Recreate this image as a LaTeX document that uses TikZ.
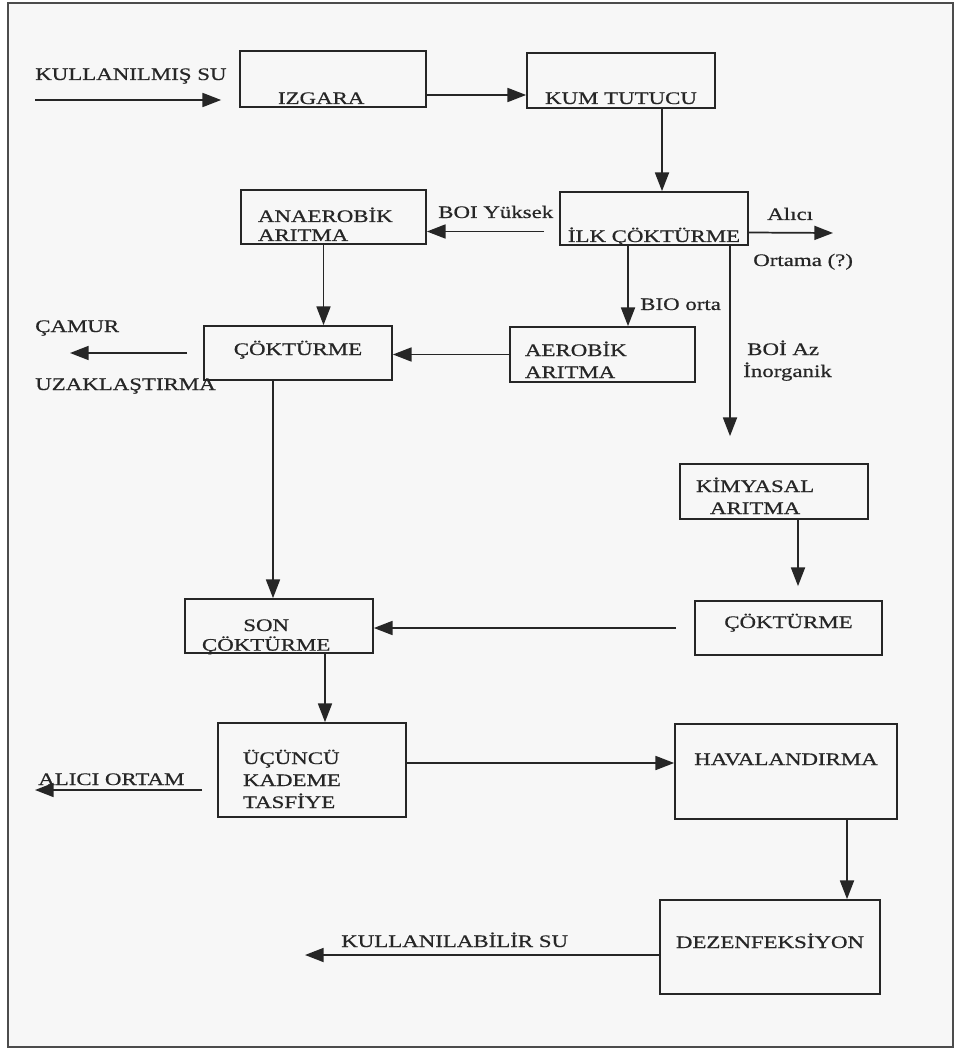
\documentclass[tikz,border=0pt]{standalone}
\usepackage{fontspec}
\setmainfont{Liberation Serif}[FakeStretch=1.3, FakeBold=0.6]
\usetikzlibrary{arrows.meta}
\newlength{\pix}
\setlength{\pix}{0.75pt}

\begin{document}
\begin{tikzpicture}[
    x=0.75pt,
    y=-0.75pt,
    font=\fontsize{13.2}{15.75}\selectfont,
    color=black!85,
    box/.style = {
      shape=rectangle,
      draw,
      line width=1.3pt,
      inner xsep=3pt,
      inner ysep=2pt,
      align=center
    },
    boxsize/.style 2 args = {minimum width=#1\pix, minimum height=#2\pix},
    textdown/.style = {text height=#1\pix, text depth=0pt, inner ysep=0pt},
    textup/.style = {text height=0pt, text depth=#1\pix, inner ysep=0pt},
    rows/.style = {font=\fontsize{13.2}{#1}\selectfont},
    leftcol/.style = {text width=#1\pix, align=left},
    tag/.style = {inner sep=0pt, anchor=base west},
    arr/.style = {draw, line width=1.3pt, -{Triangle[length=14pt,width=10.5pt]}}
    ]

  \useasboundingbox (0,0) rectangle (957,1048);
  \fill[white] (0,0) rectangle (957,1048);
  \draw[black!70, line width=1pt, fill=black!3] (8,3) rectangle (953,1047);

  \node[box, boxsize={186}{56}, textdown=50, leftcol=110] (izgara) at (333,79) {IZGARA};
  \node[box, boxsize={188}{55}, textdown=47] (kum) at (621,80.5) {KUM TUTUCU};
  \node[box, boxsize={185}{54}, textdown=10, rows=14.25, leftcol=151] (anaerob) at (333.5,217)
    {\begin{tabular}[t]{@{}l@{}}ANAEROBİK\\ARITMA\end{tabular}};
  \node[box, boxsize={188}{53}, textdown=47] (ilk) at (654,218.5) {İLK ÇÖKTÜRME};
  \node[box, boxsize={185}{55}, textdown=3, rows=16.5, leftcol=155] (aerob) at (602.5,354.5)
    {\begin{tabular}[t]{@{}l@{}}AEROBİK\\ARITMA\end{tabular}};
  \node[box, boxsize={188}{54}, textdown=4] (cokl) at (298,353) {ÇÖKTÜRME};
  \node[box, boxsize={188}{55}, textdown=1, rows=16.5, leftcol=156] (kimya) at (774,491.5)
    {\begin{tabular}[t]{@{}c@{}}KİMYASAL\\ARITMA\end{tabular}};
  \node[box, boxsize={187}{54}, textdown=0] (cokr) at (788.5,628) {ÇÖKTÜRME};
  \node[box, boxsize={188}{54}, textdown=10, rows=13.5, leftcol=154] (son) at (279,626)
    {\begin{tabular}[t]{@{}c@{}}SON\\ÇÖKTÜRME\end{tabular}};
  \node[box, boxsize={188}{94}, textup=12, rows=16.5, leftcol=138] (ucuncu) at (312,770)
    {\begin{tabular}[t]{@{}l@{}}ÜÇÜNCÜ\\KADEME\\TASFİYE\end{tabular}};
  \node[box, boxsize={222}{95}, textup=13] (hava) at (786,771.5) {HAVALANDIRMA};
  \node[box, boxsize={220}{94}, textdown=2] (dezen) at (770,947) {DEZENFEKSİYON};

  \node[tag] (kullanilmis) at (35,80) {KULLANILMIŞ SU};
  \node[tag] (boiyuksek) at (438,218) {BOI Yüksek};
  \node[tag] (alicitxt) at (767,220) {Alıcı};
  \node[tag] (ortamatxt) at (753,266) {Ortama (?)};
  \node[tag] (bioorta) at (640,310) {BIO orta};
  \node[tag] (camurtxt) at (35,332) {ÇAMUR};
  \node[tag] (uzak) at (35,390) {UZAKLAŞTIRMA};
  \node[tag] (boiaz) at (747,355) {BOİ Az};
  \node[tag] (inorg) at (743,377) {İnorganik};
  \node[tag] (aliciortam) at (38,785) {ALICI ORTAM};
  \node[tag] (kullanilabilir) at (341,947) {KULLANILABİLİR SU};

  \coordinate (giris) at (35,100);
  \coordinate (alici) at (833,233);
  \coordinate (camur) at (70,353);
  \coordinate (ortam) at (35,790);
  \coordinate (kullan) at (305,955);

  \draw[arr, shorten >=18\pix] (giris) -- (giris -| izgara.west);
  \draw[arr] ([yshift=-16\pix]izgara.east) -- ([yshift=-16\pix]izgara.east -| kum.west);
  \draw[arr] ([xshift=41\pix]kum.south) -- ([xshift=41\pix]kum.south |- ilk.north);
  \draw[arr, shorten <=15\pix] ([yshift=-13\pix]ilk.west) -- ([yshift=-13\pix]ilk.west -| anaerob.east);
  \draw[arr] ([yshift=-14\pix]ilk.east) -- (alici);
  \draw[arr] ([xshift=-26\pix]ilk.south) -- ([xshift=-26\pix]ilk.south |- aerob.north);
  \draw[arr, shorten >=27\pix] ([xshift=76\pix]ilk.south) -- ([xshift=76\pix]ilk.south |- kimya.north);
  \draw[arr] ([xshift=-10\pix]anaerob.south) -- ([xshift=-10\pix]anaerob.south |- cokl.north);
  \draw[arr] (aerob.west) -- (aerob.west -| cokl.east);
  \draw[arr, shorten <=16\pix] (cokl.west) -- (camur);
  \draw[arr] ([xshift=-6\pix]son.north |- cokl.south) -- ([xshift=-6\pix]son.north);
  \draw[arr, shorten >=14\pix] ([xshift=24\pix]kimya.south) -- ([xshift=24\pix]kimya.south |- cokr.north);
  \draw[arr, shorten <=18\pix] (cokr.west) -- (cokr.west -| son.east);
  \draw[arr] ([xshift=46\pix]son.south) -- ([xshift=46\pix]son.south |- ucuncu.north);
  \draw[arr, shorten <=15\pix] ([yshift=-20\pix]ucuncu.west) -- (ortam);
  \draw[arr] ([yshift=7\pix]ucuncu.east) -- ([yshift=7\pix]ucuncu.east -| hava.west);
  \draw[arr] ([xshift=61\pix]hava.south) -- ([xshift=61\pix]hava.south |- dezen.north);
  \draw[arr] ([yshift=-8\pix]dezen.west) -- (kullan);

\end{tikzpicture}
\end{document}
